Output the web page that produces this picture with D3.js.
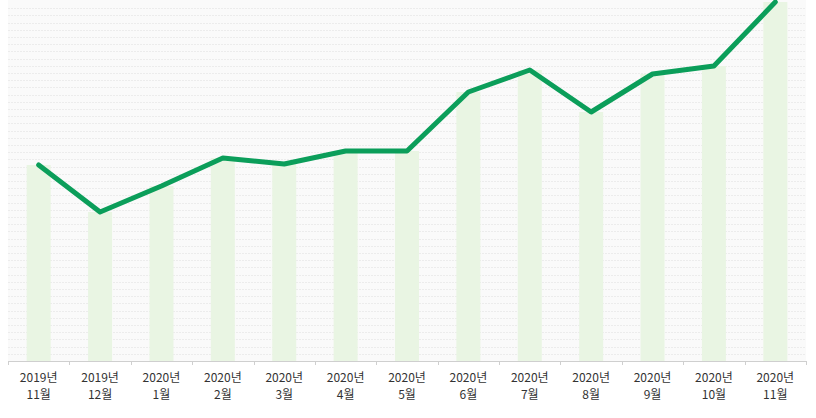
<!DOCTYPE html>
<html>
<head>
<meta charset="utf-8">
<script src="https://cdn.jsdelivr.net/npm/d3@7"></script>
<style>
  body { margin: 0; background: #fff; }
  text { font-family: "Noto Sans CJK KR", "Noto Sans", sans-serif; }
</style>
</head>
<body>
<script>
// categories (two-line labels)
let years = ["2019년", "2019년", "2020년", "2020년", "2020년", "2020년", "2020년",
             "2020년", "2020년", "2020년", "2020년", "2020년", "2020년"];
let months = ["11월", "12월", "1월", "2월", "3월", "4월", "5월",
              "6월", "7월", "8월", "9월", "10월", "11월"];
// series values (no axis shown)
let values = [196, 149, 175, 203, 197, 210, 210, 269, 291, 249, 287, 295, 359];

let width = 816;
let height = 418;
let margins = { top: 0, right: 10, bottom: 57, left: 8 };
let chart_width = width - margins.left - margins.right;
let chart_height = height - margins.top - margins.bottom;

let svg = d3.select("body").append("svg")
  .attr("width", width)
  .attr("height", height);

let chart_group = svg.append("g")
  .attr("transform", `translate(${margins.left}, ${margins.top})`);

let keys = values.map((d, i) => i);

let x = d3.scaleBand()
  .domain(keys)
  .range([0, chart_width])
  .paddingInner(0)
  .paddingOuter(0);

let y = d3.scaleLinear()
  .domain([0, 360])
  .range([chart_height, 1]);

// plot background
chart_group.append("rect")
  .attr("width", chart_width)
  .attr("height", chart_height)
  .attr("fill", "#fafafa");

// dotted grid rows
chart_group.selectAll(".grid")
  .data(d3.range(7.2, 360, 7.2))
  .enter()
  .append("line")
  .attr("x1", 0)
  .attr("x2", chart_width)
  .attr("y1", d => Math.round(y(d)) + 0.5)
  .attr("y2", d => Math.round(y(d)) + 0.5)
  .attr("stroke", "#ececec")
  .attr("stroke-width", 1)
  .attr("stroke-dasharray", "2,1");

// bars
let bar_width = 24;
chart_group.selectAll(".bar")
  .data(values)
  .enter()
  .append("rect")
  .classed("bar", true)
  .attr("x", (d, i) => x(i) + x.bandwidth() / 2 - bar_width / 2)
  .attr("y", d => y(d))
  .attr("width", bar_width)
  .attr("height", d => chart_height - y(d))
  .attr("fill", "#e9f5e3");

// line
let line = d3.line()
  .x((d, i) => x(i) + x.bandwidth() / 2)
  .y(d => y(d));

chart_group.append("path")
  .datum(values)
  .attr("d", line)
  .attr("fill", "none")
  .attr("stroke", "#0b9e5a")
  .attr("stroke-width", 5)
  .attr("stroke-linejoin", "round")
  .attr("stroke-linecap", "round");

// x axis
let axis_g = chart_group.append("g")
  .attr("transform", `translate(0, ${chart_height})`);

axis_g.append("line")
  .attr("x1", 0)
  .attr("x2", chart_width)
  .attr("y1", 0.5)
  .attr("y2", 0.5)
  .attr("stroke", "#cfcfcf");

axis_g.selectAll(".tick")
  .data(keys.concat([keys.length]))
  .enter()
  .append("line")
  .attr("x1", d => Math.round(d * x.step()) + 0.5)
  .attr("x2", d => Math.round(d * x.step()) + 0.5)
  .attr("y1", 0)
  .attr("y2", 4)
  .attr("stroke", "#cfcfcf");

let labels = axis_g.selectAll(".label")
  .data(keys)
  .enter()
  .append("text")
  .attr("x", d => x(d) + x.bandwidth() / 2)
  .attr("text-anchor", "middle")
  .attr("font-size", "12px")
  .attr("fill", "#333");

labels.append("tspan")
  .attr("x", d => x(d) + x.bandwidth() / 2)
  .attr("y", 21)
  .text(d => years[d]);

labels.append("tspan")
  .attr("x", d => x(d) + x.bandwidth() / 2)
  .attr("y", 38)
  .text(d => months[d]);
</script>
</body>
</html>
